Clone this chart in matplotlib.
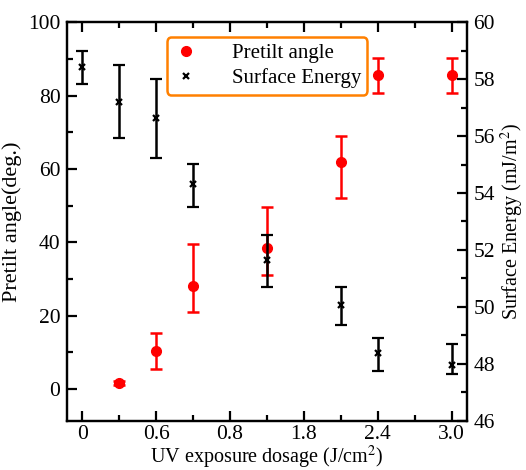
import matplotlib
matplotlib.use("Agg")
import matplotlib.pyplot as plt
from matplotlib.lines import Line2D
from matplotlib.ticker import MultipleLocator

plt.rcParams['font.family'] = ['Liberation Serif', 'DejaVu Serif']
plt.rcParams['mathtext.fontset'] = 'stix'

# Data
x_labels = ['0', '0.6', '0.8', '1.8', '2.4', '3.0']
x_ticks = [0, 0.6, 1.2, 1.8, 2.4, 3.0]

pre_x = [0.3, 0.6, 0.9, 1.5, 2.1, 2.4, 3.0]
pre_y = [1.6, 10.4, 28.1, 38.4, 61.9, 85.6, 85.6]
pre_lo = [0.6, 4.9, 7.0, 7.3, 9.7, 4.9, 4.9]
pre_hi = [0.6, 4.9, 11.5, 11.2, 7.1, 4.6, 4.6]

se_x = [0, 0.3, 0.6, 0.9, 1.5, 2.1, 2.4, 3.0]
se_y = [58.44, 57.19, 56.63, 54.31, 51.65, 50.07, 48.37, 47.96]
se_lo = [0.62, 1.27, 1.41, 0.79, 0.94, 0.70, 0.63, 0.33]
se_hi = [0.56, 1.31, 1.37, 0.70, 0.88, 0.62, 0.55, 0.75]

fig = plt.figure(figsize=(5.26, 4.70), dpi=100)
ax = fig.add_axes([0.128, 0.105, 0.759, 0.8476])
ax2 = ax.twinx()

ax.errorbar(pre_x, pre_y, yerr=[pre_lo, pre_hi], fmt='o', color='red', ms=7,
            elinewidth=1.8, capsize=4.5, capthick=1.8, zorder=3)
ax2.errorbar(se_x, se_y, yerr=[se_lo, se_hi], fmt='x', color='black', ms=5, mew=1.6,
             elinewidth=1.8, capsize=4.5, capthick=1.8, zorder=3)

ax.set_xlim(-0.12, 3.12)
ax.set_ylim(-8.6, 100)
ax2.set_ylim(46, 60)

ax.set_xticks(x_ticks)
ax.set_xticklabels(x_labels)
ax.xaxis.set_minor_locator(MultipleLocator(0.3))
ax.yaxis.set_major_locator(MultipleLocator(20))
ax.yaxis.set_minor_locator(MultipleLocator(10))
ax2.yaxis.set_major_locator(MultipleLocator(2))
ax2.yaxis.set_minor_locator(MultipleLocator(1))

for a in (ax, ax2):
    a.tick_params(which='major', direction='in', length=7, width=1.6, labelsize=15.5)
    a.tick_params(which='minor', direction='in', length=4, width=1.6)
    for s in a.spines.values():
        s.set_linewidth(1.6)
ax.tick_params(which='both', top=True)
ax.tick_params(axis='y', which='both', right=False)
ax.tick_params(axis='y', pad=5)
ax.tick_params(axis='x', pad=3)
ax2.tick_params(axis='y', pad=5)

ax.set_xlabel('UV exposure dosage (J/cm$^2$)', fontsize=14.5, labelpad=0)
ax.set_ylabel('Pretilt angle(deg.)', fontsize=16, labelpad=4)
ax2.set_ylabel('Surface Energy (mJ/m$^2$)', fontsize=14.5, labelpad=3)

handles = [Line2D([], [], marker='o', color='red', ls='none', ms=7),
           Line2D([], [], marker='x', color='black', ls='none', ms=5, mew=1.6)]
leg = ax2.legend(handles, ['Pretilt angle', 'Surface Energy'], loc='upper left',
                 bbox_to_anchor=(0.25, 0.962), fontsize=15, frameon=True, fancybox=True,
                 handletextpad=1.6, borderpad=0.3, labelspacing=0.25, handlelength=1.2,
                 borderaxespad=0)
leg.get_frame().set_edgecolor('#ff8000')
leg.get_frame().set_linewidth(1.8)
leg.get_frame().set_alpha(1)

fig.savefig('out.png', dpi=100)
